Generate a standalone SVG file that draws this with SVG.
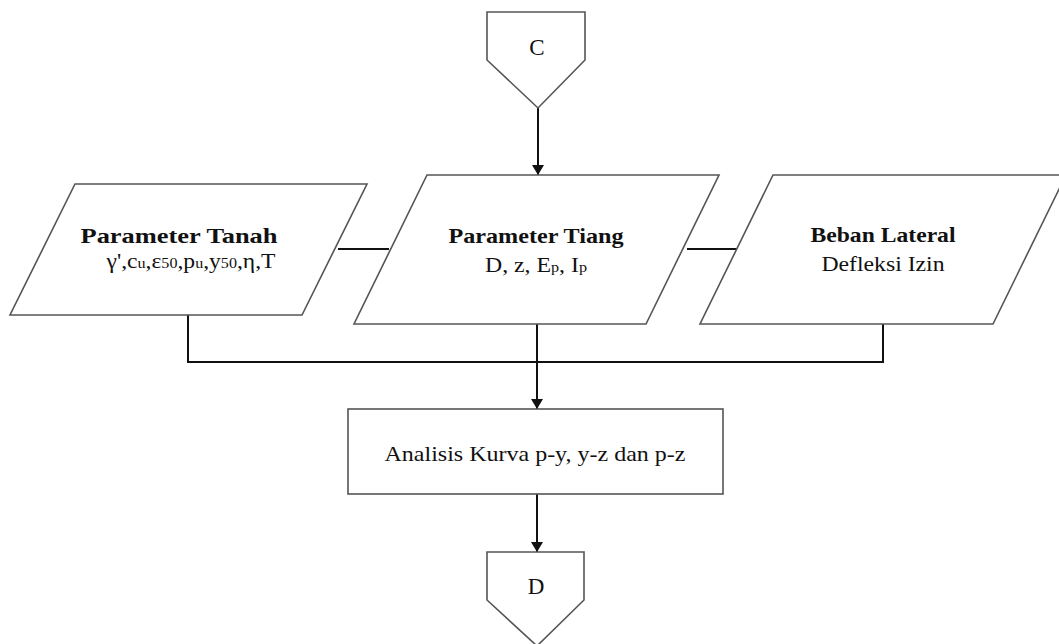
<svg xmlns="http://www.w3.org/2000/svg" width="1059" height="644" viewBox="0 0 1059 644">
<defs>
<style>
.shape{fill:#fff;stroke:#555;stroke-width:1.6}
.conn{fill:none;stroke:#111;stroke-width:2}
text{font-family:"Liberation Serif","Times New Roman",serif;fill:#111;text-anchor:middle}
.b{font-weight:bold;font-size:22px}
.r{font-size:22px}
.big{font-size:23px}
.sub{font-size:15px}
</style>
<marker id="arr" viewBox="0 0 10 12" refX="10" refY="6" markerWidth="12" markerHeight="12" markerUnits="userSpaceOnUse" orient="auto">
<path d="M0,0 L10,6 L0,12 z" fill="#111"/>
</marker>
</defs>
<rect width="1059" height="644" fill="#fff"/>
<g id="connectors">
<line class="conn" x1="538" y1="108" x2="538" y2="175" marker-end="url(#arr)"/>
<line class="conn" x1="338" y1="249" x2="389" y2="249"/>
<line class="conn" x1="687" y1="249" x2="737" y2="249"/>
<polyline class="conn" points="188,315 188,362 883,362 883,324"/>
<line class="conn" x1="537" y1="324" x2="537" y2="409" marker-end="url(#arr)"/>
<line class="conn" x1="537" y1="494" x2="537" y2="552" marker-end="url(#arr)"/>
</g>
<g id="node-C">
<polygon class="shape" points="487,12 585,12 585,60 538,108 487,60"/>
<text class="big" x="537" y="55">C</text>
</g>
<g id="node-tanah">
<polygon class="shape" points="75,184 367,184 302,315 10,315"/>
<text class="b" x="179" y="243" textLength="197" lengthAdjust="spacingAndGlyphs">Parameter Tanah</text>
<text class="r" x="191" y="268" textLength="169" lengthAdjust="spacingAndGlyphs">γ',c<tspan class="sub">u</tspan>,ε<tspan class="sub">50</tspan>,p<tspan class="sub">u</tspan>,y<tspan class="sub">50</tspan>,η,T</text>
</g>
<g id="node-tiang">
<polygon class="shape" points="427,175 719,175 646,324 354,324"/>
<text class="b" x="536" y="243" textLength="175" lengthAdjust="spacingAndGlyphs">Parameter Tiang</text>
<text class="r" x="536" y="272" textLength="102" lengthAdjust="spacingAndGlyphs">D, z, E<tspan class="sub">p</tspan>, I<tspan class="sub">p</tspan></text>
</g>
<g id="node-beban">
<polygon class="shape" points="773,175 1066,175 993,324 700,324"/>
<text class="b" x="883" y="242" textLength="145" lengthAdjust="spacingAndGlyphs">Beban Lateral</text>
<text class="r" x="883" y="271" textLength="123" lengthAdjust="spacingAndGlyphs">Defleksi Izin</text>
</g>
<g id="node-analisis">
<rect class="shape" x="348" y="409" width="375" height="85"/>
<text class="r" x="535" y="461" textLength="301" lengthAdjust="spacingAndGlyphs">Analisis Kurva p-y, y-z dan p-z</text>
</g>
<g id="node-D">
<polygon class="shape" points="487,552 584,552 584,600 537,646 487,600"/>
<text class="big" x="536" y="594">D</text>
</g>
</svg>
